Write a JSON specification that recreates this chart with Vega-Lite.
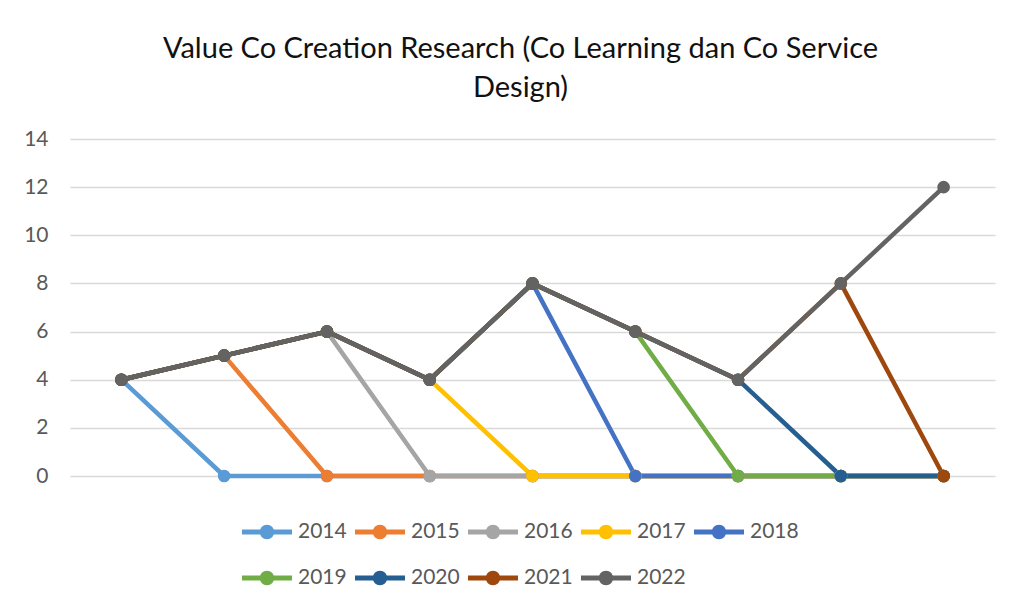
{
  "$schema": "https://vega.github.io/schema/vega-lite/v6.json",
  "width": 925,
  "height": 337,
  "autosize": {"type": "none"},
  "padding": {"left": 70, "top": 139, "right": 16, "bottom": 128},
  "background": "white",
  "title": {
    "text": ["Value Co Creation Research (Co Learning dan Co Service", "Design)"],
    "font": "Lato",
    "fontSize": 29,
    "fontWeight": "normal",
    "color": "#111111",
    "lineHeight": 39,
    "anchor": "middle",
    "dx": -12,
    "offset": 25
  },
  "data": {
    "values": [
      {"x": 1, "year": "2014", "value": 4}, {"x": 2, "year": "2014", "value": 0}, {"x": 3, "year": "2014", "value": 0}, {"x": 4, "year": "2014", "value": 0}, {"x": 5, "year": "2014", "value": 0}, {"x": 6, "year": "2014", "value": 0}, {"x": 7, "year": "2014", "value": 0}, {"x": 8, "year": "2014", "value": 0}, {"x": 9, "year": "2014", "value": 0},
      {"x": 1, "year": "2015", "value": 4}, {"x": 2, "year": "2015", "value": 5}, {"x": 3, "year": "2015", "value": 0}, {"x": 4, "year": "2015", "value": 0}, {"x": 5, "year": "2015", "value": 0}, {"x": 6, "year": "2015", "value": 0}, {"x": 7, "year": "2015", "value": 0}, {"x": 8, "year": "2015", "value": 0}, {"x": 9, "year": "2015", "value": 0},
      {"x": 1, "year": "2016", "value": 4}, {"x": 2, "year": "2016", "value": 5}, {"x": 3, "year": "2016", "value": 6}, {"x": 4, "year": "2016", "value": 0}, {"x": 5, "year": "2016", "value": 0}, {"x": 6, "year": "2016", "value": 0}, {"x": 7, "year": "2016", "value": 0}, {"x": 8, "year": "2016", "value": 0}, {"x": 9, "year": "2016", "value": 0},
      {"x": 1, "year": "2017", "value": 4}, {"x": 2, "year": "2017", "value": 5}, {"x": 3, "year": "2017", "value": 6}, {"x": 4, "year": "2017", "value": 4}, {"x": 5, "year": "2017", "value": 0}, {"x": 6, "year": "2017", "value": 0}, {"x": 7, "year": "2017", "value": 0}, {"x": 8, "year": "2017", "value": 0}, {"x": 9, "year": "2017", "value": 0},
      {"x": 1, "year": "2018", "value": 4}, {"x": 2, "year": "2018", "value": 5}, {"x": 3, "year": "2018", "value": 6}, {"x": 4, "year": "2018", "value": 4}, {"x": 5, "year": "2018", "value": 8}, {"x": 6, "year": "2018", "value": 0}, {"x": 7, "year": "2018", "value": 0}, {"x": 8, "year": "2018", "value": 0}, {"x": 9, "year": "2018", "value": 0},
      {"x": 1, "year": "2019", "value": 4}, {"x": 2, "year": "2019", "value": 5}, {"x": 3, "year": "2019", "value": 6}, {"x": 4, "year": "2019", "value": 4}, {"x": 5, "year": "2019", "value": 8}, {"x": 6, "year": "2019", "value": 6}, {"x": 7, "year": "2019", "value": 0}, {"x": 8, "year": "2019", "value": 0}, {"x": 9, "year": "2019", "value": 0},
      {"x": 1, "year": "2020", "value": 4}, {"x": 2, "year": "2020", "value": 5}, {"x": 3, "year": "2020", "value": 6}, {"x": 4, "year": "2020", "value": 4}, {"x": 5, "year": "2020", "value": 8}, {"x": 6, "year": "2020", "value": 6}, {"x": 7, "year": "2020", "value": 4}, {"x": 8, "year": "2020", "value": 0}, {"x": 9, "year": "2020", "value": 0},
      {"x": 1, "year": "2021", "value": 4}, {"x": 2, "year": "2021", "value": 5}, {"x": 3, "year": "2021", "value": 6}, {"x": 4, "year": "2021", "value": 4}, {"x": 5, "year": "2021", "value": 8}, {"x": 6, "year": "2021", "value": 6}, {"x": 7, "year": "2021", "value": 4}, {"x": 8, "year": "2021", "value": 8}, {"x": 9, "year": "2021", "value": 0},
      {"x": 1, "year": "2022", "value": 4}, {"x": 2, "year": "2022", "value": 5}, {"x": 3, "year": "2022", "value": 6}, {"x": 4, "year": "2022", "value": 4}, {"x": 5, "year": "2022", "value": 8}, {"x": 6, "year": "2022", "value": 6}, {"x": 7, "year": "2022", "value": 4}, {"x": 8, "year": "2022", "value": 8}, {"x": 9, "year": "2022", "value": 12}
    ]
  },
  "mark": {
    "type": "line",
    "strokeWidth": 4.5,
    "strokeCap": "round",
    "strokeJoin": "round",
    "point": {"filled": true, "size": 160, "opacity": 1}
  },
  "encoding": {
    "x": {
      "field": "x",
      "type": "quantitative",
      "scale": {"domain": [0.5, 9.5], "nice": false, "zero": false},
      "axis": null
    },
    "y": {
      "field": "value",
      "type": "quantitative",
      "scale": {"domain": [0, 14], "nice": false},
      "axis": {
        "title": null,
        "values": [0, 2, 4, 6, 8, 10, 12, 14],
        "domain": false,
        "ticks": false,
        "grid": true,
        "gridColor": "#d9d9d9",
        "gridWidth": 1.3,
        "labelFont": "Lato",
        "labelFontSize": 21,
        "labelColor": "#595959",
        "labelPadding": 22
      }
    },
    "color": {
      "field": "year",
      "type": "nominal",
      "scale": {
        "domain": ["2014", "2015", "2016", "2017", "2018", "2019", "2020", "2021", "2022"],
        "range": ["#5B9BD5", "#ED7D31", "#A5A5A5", "#FFC000", "#4472C4", "#70AD47", "#255E91", "#9E480E", "#636363"]
      },
      "legend": {
        "title": null,
        "orient": "none",
        "legendX": 172,
        "legendY": 368,
        "direction": "horizontal",
        "columns": 5,
        "symbolType": "M-1,-0.1L1,-0.1L1,0.1L-1,0.1Z M-0.29,0 A0.29,0.29 0 1,1 0.29,0 A0.29,0.29 0 1,1 -0.29,0Z",
        "symbolSize": 2500,
        "symbolStrokeWidth": 0,
        "labelFont": "Lato",
        "labelFontSize": 21,
        "labelColor": "#595959",
        "labelOffset": 6,
        "columnPadding": 8,
        "rowPadding": 11,
        "encode": {
          "symbols": {"update": {"fill": {"scale": "color", "field": "value"}, "opacity": {"value": 1}}}
        }
      }
    },
    "order": {"field": "x", "type": "quantitative"}
  },
  "config": {"view": {"stroke": null}}
}
